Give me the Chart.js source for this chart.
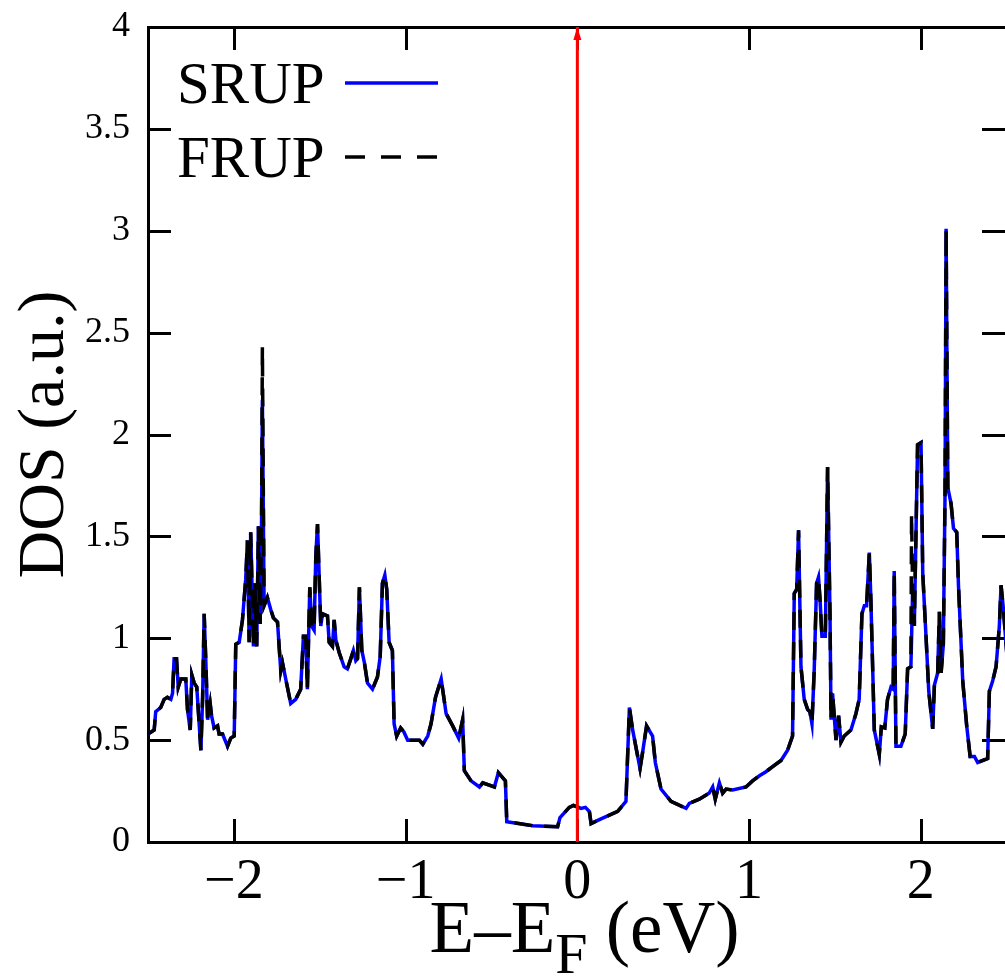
<!DOCTYPE html>
<html>
<head>
<meta charset="utf-8">
<script src="https://cdn.jsdelivr.net/npm/chart.js@4.4.0/dist/chart.umd.min.js"></script>
<style>
  html, body { margin: 0; padding: 0; background: #fff; }
  #wrap { width: 1005px; height: 976px; position: relative; }
</style>
</head>
<body>
<div id="wrap"><canvas id="dosChart"></canvas></div>
<script>
// Energía relativa al nivel de Fermi (eV)
const energia = [
  -2.500, -2.464, -2.455, -2.426, -2.406, -2.387, -2.367, -2.357, -2.348, -2.334,
  -2.324, -2.309, -2.280, -2.270, -2.254, -2.245, -2.231, -2.216, -2.206, -2.192,
  -2.182, -2.173, -2.163, -2.153, -2.138, -2.130, -2.115, -2.095, -2.086, -2.066,
  -2.037, -2.018, -1.998, -1.989, -1.969, -1.950, -1.931, -1.921, -1.911, -1.902,
  -1.886, -1.878, -1.867, -1.857, -1.847, -1.839, -1.834, -1.824, -1.805, -1.785,
  -1.770, -1.746, -1.727, -1.717, -1.698, -1.669, -1.640, -1.611, -1.595, -1.582,
  -1.572, -1.558, -1.547, -1.533, -1.523, -1.513, -1.504, -1.494, -1.484, -1.455,
  -1.445, -1.426, -1.416, -1.406, -1.387, -1.358, -1.339, -1.319, -1.304, -1.290,
  -1.280, -1.269, -1.255, -1.240, -1.222, -1.193, -1.164, -1.148, -1.135, -1.121,
  -1.110, -1.096, -1.077, -1.067, -1.052, -1.029, -1.010, -0.988, -0.920, -0.900,
  -0.871, -0.852, -0.826, -0.793, -0.764, -0.726, -0.691, -0.668, -0.658, -0.619,
  -0.570, -0.551, -0.483, -0.460, -0.419, -0.411, -0.260, -0.115, -0.101, -0.047,
  -0.023, 0.021, 0.047, 0.070, 0.080, 0.128, 0.235, 0.283, 0.303, 0.322,
  0.365, 0.380, 0.403, 0.438, 0.454, 0.487, 0.545, 0.633, 0.652, 0.710,
  0.768, 0.788, 0.803, 0.827, 0.846, 0.866, 0.904, 0.982, 1.020, 1.060,
  1.098, 1.137, 1.186, 1.224, 1.253, 1.263, 1.277, 1.288, 1.302, 1.321,
  1.341, 1.354, 1.366, 1.379, 1.393, 1.404, 1.413, 1.424, 1.444, 1.457,
  1.471, 1.477, 1.486, 1.506, 1.521, 1.535, 1.554, 1.593, 1.622, 1.641,
  1.657, 1.671, 1.684, 1.700, 1.709, 1.729, 1.758, 1.770, 1.790, 1.806,
  1.826, 1.839, 1.845, 1.855, 1.884, 1.909, 1.923, 1.942, 1.946, 1.952,
  1.962, 1.981, 2.001, 2.011, 2.030, 2.046, 2.069, 2.079, 2.098, 2.108,
  2.118, 2.131, 2.141, 2.147, 2.157, 2.176, 2.190, 2.209, 2.219, 2.244,
  2.267, 2.287, 2.312, 2.331, 2.389, 2.399, 2.418, 2.438, 2.457, 2.467,
  2.480, 2.500
];

// DOS (u.a.) - SRUP
const srup = [
  0.53, 0.55, 0.64, 0.66, 0.70, 0.71, 0.70, 0.73, 0.90, 0.90,
  0.76, 0.80, 0.80, 0.65, 0.55, 0.82, 0.78, 0.76, 0.63, 0.45,
  0.71, 1.12, 0.88, 0.60, 0.68, 0.62, 0.56, 0.57, 0.53, 0.53,
  0.47, 0.51, 0.52, 0.97, 0.98, 1.09, 1.29, 1.48, 0.98, 1.52,
  0.96, 1.27, 0.96, 1.55, 1.07, 1.55, 2.17, 1.16, 1.20, 1.14,
  1.10, 1.08, 0.84, 0.88, 0.80, 0.68, 0.70, 0.75, 1.01, 1.01,
  0.75, 1.25, 1.06, 1.04, 1.40, 1.56, 1.32, 1.06, 1.12, 1.11,
  0.98, 0.96, 1.09, 0.99, 0.93, 0.86, 0.85, 0.90, 0.94, 0.89,
  0.90, 1.25, 0.94, 0.88, 0.78, 0.75, 0.81, 0.91, 1.27, 1.31,
  1.24, 0.98, 0.94, 0.58, 0.52, 0.56, 0.54, 0.50, 0.50, 0.48,
  0.52, 0.58, 0.71, 0.80, 0.63, 0.57, 0.51, 0.60, 0.35, 0.30,
  0.27, 0.29, 0.27, 0.34, 0.30, 0.10, 0.08, 0.075, 0.12, 0.17,
  0.18, 0.165, 0.17, 0.15, 0.09, 0.11, 0.15, 0.20, 0.66, 0.55,
  0.36, 0.44, 0.57, 0.52, 0.39, 0.26, 0.20, 0.165, 0.19, 0.21,
  0.24, 0.27, 0.21, 0.29, 0.24, 0.26, 0.255, 0.27, 0.30, 0.325,
  0.345, 0.37, 0.40, 0.45, 0.52, 1.22, 1.24, 1.53, 0.86, 0.70,
  0.65, 0.64, 0.58, 0.84, 1.27, 1.30, 1.19, 1.01, 1.01, 1.84,
  1.12, 0.60, 0.73, 0.50, 0.62, 0.49, 0.52, 0.55, 0.63, 0.70,
  1.12, 1.16, 1.16, 1.42, 1.19, 0.55, 0.43, 0.565, 0.56, 0.70,
  0.76, 0.75, 1.33, 0.47, 0.47, 0.53, 0.85, 0.86, 1.00, 1.23,
  1.06, 1.95, 1.96, 1.32, 1.01, 0.74, 0.555, 0.77, 0.83, 1.13,
  0.83, 0.97, 1.72, 3.01, 1.74, 1.66, 1.54, 1.52, 1.26, 0.79,
  0.57, 0.42, 0.42, 0.39, 0.41, 0.74, 0.79, 0.86, 1.06, 1.26,
  1.15, 0.93
];

// DOS (u.a.) - FRUP
const frup = [
  0.53, 0.55, 0.64, 0.66, 0.70, 0.71, 0.70, 0.73, 0.90, 0.90,
  0.76, 0.80, 0.80, 0.65, 0.55, 0.82, 0.78, 0.76, 0.63, 0.45,
  0.71, 1.12, 0.88, 0.60, 0.68, 0.62, 0.56, 0.57, 0.53, 0.53,
  0.47, 0.51, 0.52, 0.97, 0.98, 1.09, 1.29, 1.48, 0.98, 1.52,
  0.96, 1.27, 0.96, 1.55, 1.07, 1.55, 2.43, 1.16, 1.20, 1.14,
  1.10, 1.08, 0.84, 0.88, 0.80, 0.68, 0.70, 0.75, 1.01, 1.01,
  0.75, 1.25, 1.06, 1.04, 1.40, 1.56, 1.32, 1.06, 1.12, 1.11,
  0.98, 0.96, 1.09, 0.99, 0.93, 0.86, 0.85, 0.90, 0.94, 0.89,
  0.90, 1.25, 0.94, 0.88, 0.78, 0.75, 0.81, 0.91, 1.27, 1.31,
  1.24, 0.98, 0.94, 0.58, 0.52, 0.56, 0.54, 0.50, 0.50, 0.48,
  0.52, 0.58, 0.71, 0.80, 0.63, 0.57, 0.51, 0.60, 0.35, 0.30,
  0.27, 0.29, 0.27, 0.34, 0.30, 0.10, 0.08, 0.075, 0.12, 0.17,
  0.18, 0.165, 0.17, 0.15, 0.09, 0.11, 0.15, 0.20, 0.66, 0.55,
  0.36, 0.44, 0.57, 0.52, 0.39, 0.26, 0.20, 0.165, 0.19, 0.21,
  0.24, 0.27, 0.21, 0.29, 0.24, 0.26, 0.255, 0.27, 0.30, 0.325,
  0.345, 0.37, 0.40, 0.45, 0.52, 1.22, 1.24, 1.53, 0.86, 0.70,
  0.65, 0.64, 0.58, 0.84, 1.27, 1.30, 1.19, 1.01, 1.01, 1.84,
  1.12, 0.60, 0.73, 0.50, 0.62, 0.49, 0.52, 0.55, 0.63, 0.70,
  1.12, 1.16, 1.16, 1.42, 1.19, 0.55, 0.43, 0.565, 0.56, 0.70,
  0.76, 0.75, 1.33, 0.47, 0.47, 0.53, 0.85, 0.86, 1.61, 1.23,
  1.06, 1.95, 1.96, 1.32, 1.01, 0.74, 0.555, 0.77, 0.83, 1.13,
  0.83, 0.97, 1.72, 3.01, 1.74, 1.66, 1.54, 1.52, 1.26, 0.79,
  0.57, 0.42, 0.42, 0.39, 0.41, 0.74, 0.79, 0.86, 1.06, 1.26,
  1.15, 0.93
];

// Nivel de Fermi (línea vertical roja)
const fermiX = [0, 0];
const fermiY = [0, 4];

// Posiciones de las marcas de los ejes
const xMarcas = [-2, -1, 0, 1, 2];
const yMarcas = [0, 0.5, 1, 1.5, 2, 2.5, 3, 3.5, 4];

const FUENTE = '"Liberation Serif", "Times New Roman", serif';
const TICK = 23; // marcas hacia dentro

const puntos = (xs, ys) => xs.map((x, i) => ({ x: x, y: ys[i] }));

// Marcas interiores, leyenda, título del eje x y punta de flecha
const decor = {
    id: 'decor',
    beforeDatasetsDraw(chart) {
        const { ctx, chartArea, scales } = chart;
        ctx.save();
        ctx.fillStyle = '#000000';
        xMarcas.forEach(v => {
            const px = Math.round(scales.x.getPixelForValue(v));
            ctx.fillRect(px - 1, chartArea.bottom - TICK, 3, TICK);
            ctx.fillRect(px - 1, chartArea.top, 3, TICK);
        });
        yMarcas.forEach(v => {
            const py = Math.round(scales.y.getPixelForValue(v));
            ctx.fillRect(chartArea.left, py - 1, TICK, 3);
            ctx.fillRect(chartArea.right - TICK, py - 1, TICK, 3);
        });
        ctx.restore();
    },
    afterDatasetsDraw(chart) {
        const { ctx, scales } = chart;
        const fx = scales.x.getPixelForValue(fermiX[1]);
        const fy = scales.y.getPixelForValue(fermiY[1]);
        ctx.save();
        ctx.fillStyle = '#ff0000';
        ctx.beginPath();
        ctx.moveTo(fx, fy);
        ctx.lineTo(fx - 4, fy + 13);
        ctx.lineTo(fx + 4, fy + 13);
        ctx.closePath();
        ctx.fill();
        ctx.restore();
    },
    afterDraw(chart) {
        const { ctx, chartArea } = chart;
        ctx.save();
        ctx.fillStyle = '#000';
        ctx.textBaseline = 'alphabetic';

        // leyenda
        const items = [
            { label: 'SRUP', color: '#0000ff', dash: [] },
            { label: 'FRUP', color: '#000000', dash: [20, 16] }
        ];
        items.forEach((it, i) => {
            const base = chartArea.top + 76 + i * 74;
            ctx.font = '59px ' + FUENTE;
            ctx.fillStyle = '#000';
            ctx.fillText(it.label, chartArea.left + 29, base);
            ctx.beginPath();
            ctx.setLineDash(it.dash);
            ctx.strokeStyle = it.color;
            ctx.lineWidth = 3.5;
            ctx.moveTo(chartArea.left + 197, base - 20);
            ctx.lineTo(chartArea.left + 290, base - 20);
            ctx.stroke();
        });
        ctx.setLineDash([]);

        // título del eje x: E–E_F (eV)
        const partes = [
            { t: 'E\u2013E', size: 73, dy: 0 },
            { t: 'F', size: 58, dy: 21 },
            { t: ' (eV)', size: 73, dy: 0 }
        ];
        let total = 0;
        partes.forEach(p => {
            ctx.font = p.size + 'px ' + FUENTE;
            p.w = ctx.measureText(p.t).width;
            total += p.w;
        });
        let x = (chartArea.left + chartArea.right) / 2 + 8 - total / 2;
        const baseY = chartArea.bottom + 110;
        partes.forEach(p => {
            ctx.font = p.size + 'px ' + FUENTE;
            ctx.fillText(p.t, x, baseY + p.dy);
            x += p.w;
        });
        ctx.restore();
    }
};

const ctx = document.getElementById('dosChart').getContext('2d');
const dosChart = new Chart(ctx, {
    type: 'line',
    data: {
        datasets: [
            {
                label: 'SRUP',
                data: puntos(energia, srup),
                borderColor: '#0000ff',
                borderWidth: 3.5,
                order: 3
            },
            {
                label: 'FRUP',
                data: puntos(energia, frup),
                borderColor: '#000000',
                borderWidth: 3.5,
                borderDash: [18, 12],
                order: 2
            },
            {
                label: 'EF',
                data: puntos(fermiX, fermiY),
                borderColor: '#ff0000',
                borderWidth: 3,
                order: 1
            }
        ]
    },
    options: {
        responsive: true,
        maintainAspectRatio: false,
        animation: false,
        layout: { padding: 0 },
        elements: {
            point: { radius: 0, hoverRadius: 0 },
            line: { tension: 0, fill: false }
        },
        plugins: {
            legend: { display: false },
            tooltip: { enabled: false }
        },
        scales: {
            x: {
                type: 'linear',
                position: 'bottom',
                min: -2.5,
                max: 2.49,
                afterFit: s => { s.height = 134; },
                ticks: {
                    stepSize: 1,
                    includeBounds: false,
                    color: '#000',
                    padding: 8,
                    maxRotation: 0,
                    font: { family: FUENTE, size: 56 },
                    callback: v => (v < 0 ? '\u2212' + Math.abs(v) : String(v))
                },
                grid: { display: false, drawTicks: false },
                border: { color: '#000', width: 3 }
            },
            xTop: {
                type: 'linear',
                position: 'top',
                min: -2.5,
                max: 2.49,
                afterFit: s => { s.height = 27; },
                ticks: { display: false },
                grid: { display: false, drawTicks: false },
                border: { color: '#000', width: 3 }
            },
            y: {
                type: 'linear',
                min: 0,
                max: 4,
                afterFit: s => { s.width = 148; },
                ticks: {
                    stepSize: 0.5,
                    color: '#000',
                    padding: 18,
                    font: { family: FUENTE, size: 36, lineHeight: 0.1 },
                    callback: v => String(v)
                },
                grid: { display: false, drawTicks: false },
                border: { color: '#000', width: 3 },
                title: {
                    display: true,
                    text: 'DOS (a.u.)',
                    color: '#000',
                    padding: { top: 6, bottom: 0 },
                    font: { family: FUENTE, size: 66 }
                }
            }
        }
    },
    plugins: [decor]
});
</script>
</body>
</html>
